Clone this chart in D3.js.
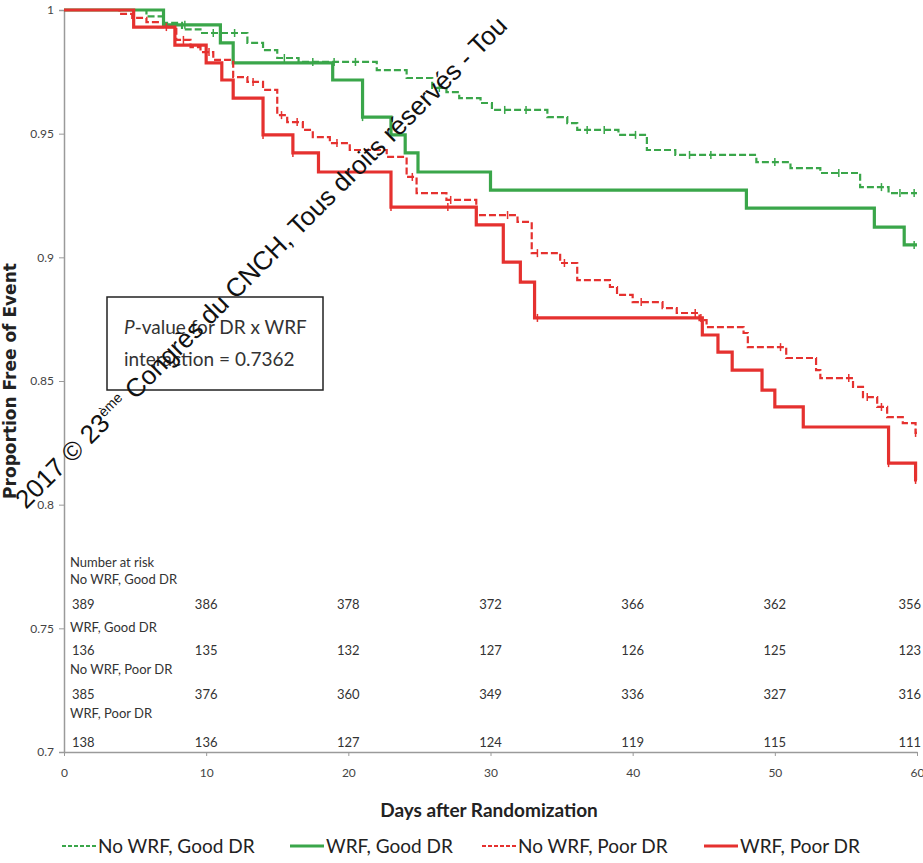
<!DOCTYPE html>
<html>
<head>
<meta charset="utf-8">
<script src="https://d3js.org/d3.v7.min.js"></script>
<style>
  body { margin: 0; background: #fff; }
  text { font-family: Lato, "Open Sans", sans-serif; }
</style>
</head>
<body>
<div id="chart"></div>
<script>
// Kaplan-Meier steps: day of each drop and survival after it
const nwgDays = [5.8, 7.0, 8.3, 9.6, 12.9, 14.0, 15.0, 16.5, 22.0, 24.1, 25.9, 26.9, 27.8, 29.3, 30.1, 34.0, 35.4, 36.1, 39.0, 41.0, 43.0, 48.7, 51.1, 53.2, 56.0, 58.0];
const nwgSurv = [0.9974, 0.9948, 0.9922, 0.9907, 0.9867, 0.9838, 0.9806, 0.9790, 0.9757, 0.9725, 0.9685, 0.9668, 0.9644, 0.9624, 0.9596, 0.9567, 0.9543, 0.9515, 0.9495, 0.9434, 0.9414, 0.9385, 0.9361, 0.9341, 0.9284, 0.9260];
const nwgCens = [10.5, 12, 15.5, 17.5, 19, 20.5, 26.4, 31, 32.5, 36.8, 38, 40.2, 44, 45.5, 50, 54.5, 57.5, 58.8, 59.8];

const wgDays = [7.0, 11.0, 11.9, 18.9, 21.0, 23.0, 24.0, 24.9, 30.0, 48.0, 57.0, 59.1];
const wgSurv = [0.9940, 0.9867, 0.9786, 0.9717, 0.9567, 0.9495, 0.9422, 0.9345, 0.9272, 0.9199, 0.9122, 0.9050];
const wgCens = [8.5, 21.0, 59.8];

const nwpDays = [3.9, 4.8, 5.8, 6.6, 7.9, 8.9, 9.6, 10.5, 11.9, 12.9, 14.0, 15.0, 15.7, 16.8, 17.5, 18.7, 20.1, 22.7, 24.1, 24.8, 26.9, 29.0, 31.9, 32.9, 34.9, 36.1, 38.4, 38.9, 40.0, 42.1, 43.1, 44.7, 45.2, 47.8, 48.1, 50.8, 52.9, 53.2, 55.5, 56.2, 57.2, 57.9, 59.0, 59.9];
const nwpSurv = [0.9984, 0.9968, 0.9951, 0.9931, 0.9879, 0.9850, 0.9830, 0.9798, 0.9729, 0.9709, 0.9677, 0.9575, 0.9547, 0.9515, 0.9486, 0.9462, 0.9434, 0.9406, 0.9325, 0.9260, 0.9232, 0.9171, 0.9143, 0.9017, 0.8977, 0.8908, 0.8880, 0.8848, 0.8819, 0.8795, 0.8775, 0.8746, 0.8718, 0.8694, 0.8637, 0.8593, 0.8544, 0.8512, 0.8476, 0.8435, 0.8395, 0.8354, 0.8330, 0.8290];
const nwpCens = [7.2, 8.4, 10.2, 13.3, 15.3, 16.4, 19.2, 24.5, 27.2, 31.2, 33.3, 35.2, 40.6, 44.4, 50.4, 55.2, 56.5, 57.5, 59.9];

const wpDays = [4.9, 7.8, 10.0, 11.1, 11.9, 14.0, 16.1, 17.9, 23.0, 29.0, 30.9, 32.1, 33.1, 44.9, 46.0, 47.0, 49.1, 50.0, 52.0, 58.0, 59.9];
const wpSurv = [0.9931, 0.9858, 0.9786, 0.9717, 0.9644, 0.9495, 0.9422, 0.9345, 0.9203, 0.9131, 0.8981, 0.8900, 0.8755, 0.8686, 0.8617, 0.8544, 0.8463, 0.8395, 0.8314, 0.8168, 0.8100];
const wpCens = [14.0, 16.1, 23.0, 27.0, 33.3, 44.8, 58.0, 59.9];

// Number at risk table
const riskDays = [0, 10, 20, 30, 40, 50, 60];
const riskNoWrfGood = [389, 386, 378, 372, 366, 362, 356];
const riskWrfGood = [136, 135, 132, 127, 126, 125, 123];
const riskNoWrfPoor = [385, 376, 360, 349, 336, 327, 316];
const riskWrfPoor = [138, 136, 127, 124, 119, 115, 111];

const xTicks = [0, 10, 20, 30, 40, 50, 60];
const yTicks = [0.7, 0.75, 0.8, 0.85, 0.9, 0.95, 1];
const yTickLabels = ["0.7", "0.75", "0.8", "0.85", "0.9", "0.95", "1"];

const width = 923;
const height = 863;
const green = "#3aa64a";
const red = "#e5312f";

const x = d3.scaleLinear().domain([0, 60]).range([64, 917]);
const y = d3.scaleLinear().domain([0.7, 1]).range([752, 10]);

const svg = d3.select("#chart")
  .append("svg")
    .attr("width", width)
    .attr("height", height)
    .attr("viewBox", [0, 0, width, height]);

// axes
const gy = svg.append("g")
  .attr("transform", `translate(${x(0)},0)`)
  .call(d3.axisLeft(y).tickValues(yTicks).tickSize(5).tickPadding(5)
    .tickFormat((d, i) => yTickLabels[i]));
const gx = svg.append("g")
  .attr("transform", `translate(0,${y(0.7)})`)
  .call(d3.axisBottom(x).tickValues(xTicks).tickSize(4).tickPadding(12).tickSizeOuter(0));
[gx, gy].forEach(g => {
  g.select(".domain").attr("stroke", "#9a9a9a").attr("stroke-width", 1.5);
  g.selectAll(".tick line").attr("stroke", "#9a9a9a");
  g.selectAll(".tick text").attr("fill", "#444").style("font-size", "12px");
});

svg.append("text")
  .attr("transform", `translate(16,${(y(1) + y(0.7)) / 2}) rotate(-90)`)
  .attr("text-anchor", "middle")
  .style("font-family", "'DejaVu Sans', sans-serif")
  .style("font-weight", "bold")
  .style("font-size", "17px")
  .attr("fill", "#222")
  .text("Proportion Free of Event");

svg.append("text")
  .attr("x", 489).attr("y", 817)
  .attr("text-anchor", "middle")
  .style("font-weight", "bold")
  .style("font-size", "19px")
  .attr("fill", "#222")
  .text("Days after Randomization");

// curves
const series = [
  {name: "No WRF, Good DR", days: nwgDays, surv: nwgSurv, cens: nwgCens, color: green, dash: "7,3", w: 2.2},
  {name: "WRF, Good DR", days: wgDays, surv: wgSurv, cens: wgCens, color: green, dash: null, w: 3.2},
  {name: "No WRF, Poor DR", days: nwpDays, surv: nwpSurv, cens: nwpCens, color: red, dash: "7,3", w: 2.2},
  {name: "WRF, Poor DR", days: wpDays, surv: wpSurv, cens: wpCens, color: red, dash: null, w: 3.2}
];

const line = d3.line().x(d => x(d[0])).y(d => y(d[1])).curve(d3.curveStepAfter);

function survAt(s, t) {
  let v = 1;
  s.days.forEach((d, i) => { if (d <= t) v = s.surv[i]; });
  return v;
}

series.forEach(s => {
  const pts = [[0, 1]].concat(s.days.map((d, i) => [d, s.surv[i]]));
  pts.push([60, s.surv[s.surv.length - 1]]);
  svg.append("path")
    .attr("d", line(pts))
    .attr("fill", "none")
    .attr("stroke", s.color)
    .attr("stroke-width", s.w)
    .attr("stroke-dasharray", s.dash);
  svg.append("g")
    .selectAll("line")
    .data(s.cens)
    .join("line")
      .attr("x1", d => x(d)).attr("x2", d => x(d))
      .attr("y1", d => y(survAt(s, d)) - 4)
      .attr("y2", d => y(survAt(s, d)) + 4)
      .attr("stroke", s.color)
      .attr("stroke-width", 1.5);
});

// number at risk
const risk = svg.append("g").style("font-size", "13px").attr("fill", "#333");
risk.append("text").attr("x", 70).attr("y", 567).text("Number at risk");
const riskRows = [
  {label: "No WRF, Good DR", vals: riskNoWrfGood, yl: 584, yv: 609},
  {label: "WRF, Good DR", vals: riskWrfGood, yl: 632, yv: 655},
  {label: "No WRF, Poor DR", vals: riskNoWrfPoor, yl: 674, yv: 699},
  {label: "WRF, Poor DR", vals: riskWrfPoor, yl: 718, yv: 747}
];
riskRows.forEach(r => {
  risk.append("text").attr("x", 70).attr("y", r.yl).text(r.label);
  risk.selectAll(null)
    .data(riskDays)
    .join("text")
      .attr("x", (d, i) => i === 0 ? x(d) + 8 : i === riskDays.length - 1 ? x(d) + 4 : x(d))
      .attr("y", r.yv)
      .attr("text-anchor", (d, i) => i === 0 ? "start" : i === riskDays.length - 1 ? "end" : "middle")
      .text((d, i) => r.vals[i]);
});

// p-value box
svg.append("rect")
  .attr("x", 107).attr("y", 297).attr("width", 216).attr("height", 93)
  .attr("fill", "#fff").attr("stroke", "#222").attr("stroke-width", 1.5);
const pt = svg.append("text").attr("x", 124).attr("y", 334)
  .style("font-size", "19px").attr("fill", "#333");
pt.append("tspan").style("font-style", "italic").text("P");
pt.append("tspan").text("-value for DR x WRF");
svg.append("text").attr("x", 124).attr("y", 366)
  .style("font-size", "19px").attr("fill", "#333")
  .text("interaction = 0.7362");

// legend
const legendX = [62, 290, 482, 704];
const leg = svg.append("g");
series.forEach((s, i) => {
  leg.append("line")
    .attr("x1", legendX[i]).attr("x2", legendX[i] + 34)
    .attr("y1", 846).attr("y2", 846)
    .attr("stroke", s.color)
    .attr("stroke-width", s.dash ? 2.2 : 3.2)
    .attr("stroke-dasharray", s.dash ? "4,2" : null);
  leg.append("text")
    .attr("x", legendX[i] + 36).attr("y", 853)
    .style("font-size", "19px").attr("fill", "#222")
    .text(s.name);
});

// copyright watermark (cut by the top edge, as in the original)
const wm = svg.append("text")
  .attr("transform", "translate(26,510) rotate(-45)")
  .style("font-family", "'Liberation Sans', Arial, sans-serif")
  .style("font-size", "26px")
  .attr("fill", "#111");
wm.append("tspan").text("2017 © 23");
wm.append("tspan").attr("dy", -10).style("font-size", "14px").text("ème");
wm.append("tspan").attr("dy", 10).text(" Congrès du CNCH, Tous droits réservés - Tou");
</script>
</body>
</html>
